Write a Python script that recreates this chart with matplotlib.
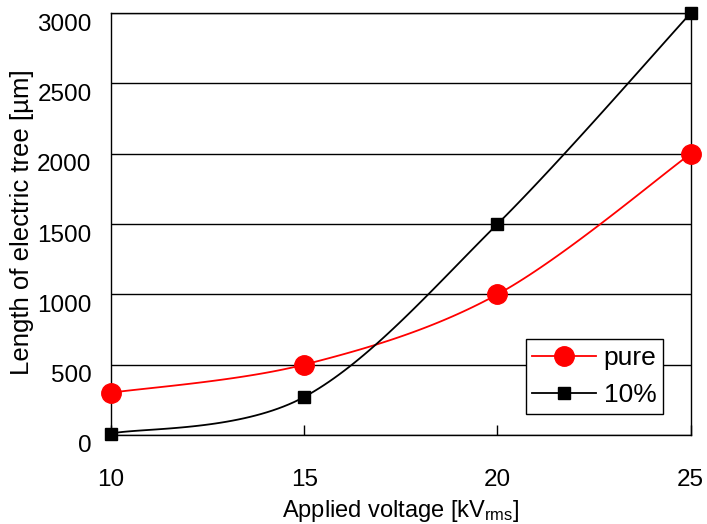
import numpy as np
import matplotlib
matplotlib.use("Agg")
import matplotlib.pyplot as plt
import matplotlib.transforms as mtransforms
from matplotlib.lines import Line2D

plt.rcParams['font.family'] = ['Liberation Sans', 'DejaVu Sans']
plt.rcParams['mathtext.fontset'] = 'custom'
plt.rcParams['mathtext.rm'] = 'Liberation Sans'
plt.rcParams['mathtext.default'] = 'regular'

voltage = [10, 15, 20, 25]
pure = [300, 500, 1000, 2000]
doped = [10, 270, 1500, 3000]
yticks = [0, 500, 1000, 1500, 2000, 2500, 3000]


def smooth(x, y, n=40):
    """Catmull-Rom style smoothing through the data points."""
    x = np.asarray(x, float)
    y = np.asarray(y, float)
    px = np.concatenate([[x[0]], x, [x[-1]]])
    py = np.concatenate([[y[0]], y, [y[-1]]])
    xs, ys = [], []
    for i in range(1, len(px) - 2):
        p0 = np.array([px[i], py[i]])
        p3 = np.array([px[i + 1], py[i + 1]])
        c1 = p0 + (np.array([px[i + 1], py[i + 1]]) - np.array([px[i - 1], py[i - 1]])) / 6
        c2 = p3 - (np.array([px[i + 2], py[i + 2]]) - np.array([px[i], py[i]])) / 6
        t = np.linspace(0, 1, n)[:, None]
        b = ((1 - t) ** 3) * p0 + 3 * ((1 - t) ** 2) * t * c1 + 3 * (1 - t) * t ** 2 * c2 + t ** 3 * p3
        xs.extend(b[:, 0])
        ys.extend(b[:, 1])
    return np.array(xs), np.array(ys)


fig = plt.figure(figsize=(7.07, 5.24), dpi=100)
ax = fig.add_axes([0.157, 0.170, 0.820, 0.805])

for yv in yticks:
    ax.axhline(yv, color='black', lw=1.0, zorder=1)

sx, sy = smooth(voltage, pure)
ax.plot(sx, sy, color='red', lw=1.3, zorder=3, clip_on=False)
ax.plot(voltage, pure, 'o', color='red', ms=14, zorder=4, clip_on=False)
sx, sy = smooth(voltage, doped)
ax.plot(sx, sy, color='black', lw=1.3, zorder=3, clip_on=False)
ax.plot(voltage, doped, 's', color='black', ms=8, zorder=5, clip_on=False)

handles = [Line2D([], [], color='red', lw=1.3, marker='o', ms=14),
           Line2D([], [], color='black', lw=1.3, marker='s', ms=8)]
leg = ax.legend(handles, ['pure', '10%'], loc='lower right',
                bbox_to_anchor=(0.952, 0.05), fontsize=19, frameon=True,
                fancybox=False, edgecolor='black', framealpha=1,
                handlelength=2.4, borderpad=0.25, labelspacing=0.5,
                handletextpad=0.3, borderaxespad=0)
leg.get_frame().set_linewidth(1.0)
leg.set_zorder(6)

ax.set_xlim(10, 25)
ax.set_ylim(0, 3000)
ax.set_xticks(voltage)
ax.set_yticks(yticks)
ax.tick_params(axis='x', direction='in', length=7, width=1, labelsize=17.5, pad=24.5)
ax.tick_params(axis='y', length=0, labelsize=17.5, pad=14)
# y tick labels sit with their tops on the gridlines
shift = mtransforms.ScaledTranslation(0, -9 / 100, fig.dpi_scale_trans)
for lab in ax.get_yticklabels():
    lab.set_transform(lab.get_transform() + shift)
for s in ax.spines.values():
    s.set_linewidth(1.0)
    s.set_zorder(2)

ax.set_xlabel('Applied voltage [kV$_{rms}$]', fontsize=17, labelpad=5)
ax.set_ylabel('Length of electric tree [µm]', fontsize=18.5)
ax.yaxis.set_label_coords(-0.133, 0.505)

fig.savefig('out.png', dpi=100)
